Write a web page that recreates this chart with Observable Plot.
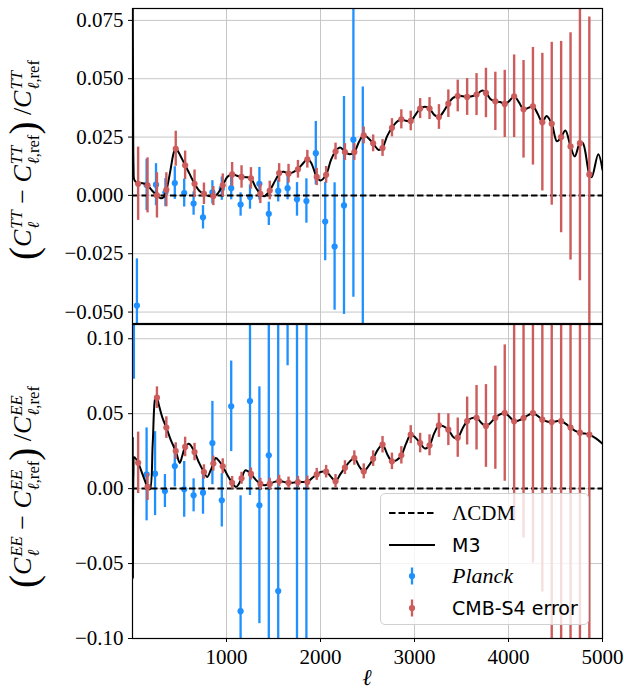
<!DOCTYPE html>
<html><head><meta charset="utf-8">
<script src="https://cdn.jsdelivr.net/npm/d3@7"></script>
<script src="https://cdn.jsdelivr.net/npm/@observablehq/plot@0.6"></script>
<style>
body{margin:0;background:#fff;}
#wrap{position:relative;width:624px;height:690px;overflow:hidden;background:#fff;}
.panel{position:absolute;left:0;}
.ylab{position:absolute;transform:translate(-50%,-50%) rotate(-90deg);white-space:nowrap;font-family:"Liberation Serif",serif;font-size:26px;color:#000;}
.ss{display:inline-flex;flex-direction:column;align-items:flex-start;vertical-align:middle;font-size:0.64em;line-height:1.0;margin-left:1px;}
.ss .u{font-style:italic;}
.bp{font-size:1.5em;vertical-align:middle;line-height:1;position:relative;top:-0.06em;}
#xlab{position:absolute;left:367px;top:678px;transform:translate(-50%,-50%);font-family:"Liberation Serif",serif;font-style:italic;font-size:23px;}
#legend{position:absolute;left:380px;top:493px;width:209px;height:132px;border:1px solid #d0d0d0;border-radius:5px;background:rgba(255,255,255,0.8);box-sizing:border-box;}
.lrow{position:absolute;left:0;height:30px;display:flex;align-items:center;}
.lrow svg{margin-left:7px;}
.lrow span{position:absolute;left:71px;white-space:nowrap;}
.sans{font-family:"DejaVu Sans",sans-serif;font-size:19px;}
.serif{font-family:"Liberation Serif",serif;font-size:21px;}
</style></head>
<body><div id="wrap"></div>
<script>
// ---------- tick values ----------
const xTicks = [1000, 2000, 3000, 4000, 5000];
const yTicksTT = [-0.05, -0.025, 0, 0.025, 0.05, 0.075];
const yTicksEE = [-0.1, -0.05, 0, 0.05, 0.1];
const lcdm = [0];

// ---------- CMB-S4 forecast points (multipoles shared by TT and EE) ----------
const s4_l = [60,160,260,360,460,560,660,760,860,960,1060,1160,1260,1360,1460,1560,1660,1760,1860,1960,
  2060,2160,2260,2360,2460,2560,2660,2760,2860,2960,3060,3160,3260,3360,3460,3560,3660,3760,3860,3960,
  4060,4160,4260,4360,4460,4560,4660,4760,4860];
const s4TT_v = [0.0050,0.0043,0.0000,0.0024,0.0200,0.0129,0.0050,0.0007,-0.0003,0.0043,0.0090,0.0079,0.0073,0.0007,0.0021,0.0096,0.0093,0.0112,0.0155,0.0079,
  0.0088,0.0188,0.0186,0.0186,0.0257,0.0223,0.0203,0.0290,0.0326,0.0319,0.0372,0.0372,0.0336,0.0393,0.0426,0.0422,0.0432,0.0439,0.0403,0.0392,
  0.0425,0.0369,0.0382,0.0314,0.0307,0.0250,0.0210,0.0224,0.0090];
const s4TT_e = [0.0157,0.0118,0.0097,0.0073,0.0075,0.0061,0.0059,0.0046,0.0041,0.0049,0.0051,0.0048,0.0046,0.0042,0.0040,0.0040,0.0040,0.0038,0.0038,0.0037,
  0.0036,0.0036,0.0036,0.0036,0.0036,0.0036,0.0036,0.0039,0.0041,0.0042,0.0043,0.0047,0.0053,0.0059,0.0068,0.0079,0.0090,0.0106,0.0125,0.0144,
  0.0177,0.0209,0.0252,0.0295,0.0349,0.0410,0.0487,0.0590,0.0675];
const s4EE_v = [0.0172,0.0011,0.0607,0.0407,0.0251,0.0278,0.0244,0.0111,0.0167,0.0149,0.0039,0.0069,0.0098,0.0031,0.0031,0.0051,0.0039,0.0044,0.0044,0.0095,
  0.0113,0.0050,0.0140,0.0204,0.0115,0.0200,0.0293,0.0182,0.0222,0.0360,0.0304,0.0289,0.0422,0.0393,0.0340,0.0451,0.0473,0.0418,0.0473,0.0504,
  0.0449,0.0471,0.0504,0.0460,0.0444,0.0451,0.0407,0.0373,0.0360];
const s4EE_e = [0.0205,0.0090,0.0072,0.0072,0.0055,0.0065,0.0058,0.0048,0.0050,0.0050,0.0042,0.0040,0.0040,0.0038,0.0038,0.0038,0.0038,0.0038,0.0040,0.0040,
  0.0042,0.0044,0.0046,0.0048,0.0050,0.0052,0.0055,0.0055,0.0058,0.0060,0.0065,0.0070,0.0080,0.0106,0.0131,0.0160,0.0215,0.0276,0.0344,0.0455,
  0.0667,0.0800,0.1000,0.1150,0.1600,0.1900,0.2200,0.2600,0.3000];

// ---------- Planck points ----------
const plTT_l = [47,150,250,350,450,550,650,750,850,950,1050,1150,1250,1350,1450,1550,1650,1750,1850,1950,2050,2150,2250,2350,2450];
const plTT_v = [-0.0472,0.0045,0.0046,0.0012,0.0053,0.0010,-0.0035,-0.0094,0.0013,0.0029,0.0031,-0.0039,-0.0007,0.0050,-0.0079,0.0019,0.0031,-0.0017,-0.0024,0.0181,-0.0112,-0.0219,-0.0043,0.0239,-0.0600];
const plTT_e = [0.0200,0.0110,0.0090,0.0060,0.0070,0.0060,0.0050,0.0050,0.0050,0.0050,0.0050,0.0050,0.0052,0.0070,0.0050,0.0047,0.0050,0.0072,0.0095,0.0136,0.0168,0.0273,0.0467,0.0675,0.1065];
const plEE_l = [15,150,240,345,450,550,650,750,850,950,1050,1150,1250,1350,1450,1550,1650,1750,1850];
const plEE_v = [0.160,0.0095,0.0100,-0.0016,0.0151,-0.0005,-0.0045,-0.0027,0.0304,-0.0078,0.0549,-0.0818,0.0584,-0.0111,0.0222,-0.0683,0.250,-0.200,0.200];
const plEE_e = [0.087,0.031,0.028,0.011,0.014,0.0186,0.011,0.0144,0.0278,0.0178,0.0302,0.077,0.063,0.079,0.150,0.200,0.168,0.350,0.350];

// ---------- M3 model curves ----------
const m3TT_l = [2,6,11,18,35,60,110,160,210,260,300,330,362,400,440,462,490,560,610,660,710,760,810,860,900,960,1010,1060,1110,1160,1210,1260,1310,1360,1400,1460,
  1520,1570,1610,1660,1710,1760,1820,1860,1900,1960,2000,2060,2110,2160,2210,2260,2310,2360,2410,2460,2510,2560,2620,2660,2710,2760,2810,2860,2910,2960,
  3010,3060,3110,3160,3210,3260,3310,3360,3410,3460,3510,3560,3610,3660,3720,3760,3810,3860,3910,3960,4010,4060,4110,4160,4210,4260,4310,4360,4405,4460,
  4515,4560,4605,4660,4705,4760,4790,4860,4885,4955,5000];
const m3TT_v = [0.095,0.045,0.012,0.0068,0.0058,0.0054,0.0052,0.0043,0.0020,0.0000,-0.0012,-0.0008,0.0024,0.0100,0.0185,0.0202,0.0185,0.0129,0.0090,0.0050,0.0020,0.0006,-0.0003,-0.0004,0.0005,0.0043,0.0080,0.0092,0.0084,0.0079,0.0078,0.0073,0.0035,0.0006,-0.0004,0.0021,
  0.0065,0.0097,0.0101,0.0093,0.0100,0.0113,0.0140,0.0156,0.0140,0.0079,0.0064,0.0090,0.0150,0.0190,0.0205,0.0187,0.0176,0.0186,0.0230,0.0260,0.0245,0.0223,0.0195,0.0205,0.0255,0.0290,0.0315,0.0326,0.0320,0.0319,
  0.0345,0.0372,0.0380,0.0372,0.0345,0.0336,0.0360,0.0393,0.0418,0.0426,0.0425,0.0422,0.0425,0.0432,0.0450,0.0440,0.0412,0.0403,0.0400,0.0392,0.0405,0.0425,0.0400,0.0369,0.0375,0.0382,0.0350,0.0314,0.0340,0.0307,
  0.0232,0.0250,0.0278,0.0210,0.0167,0.0224,0.0225,0.0090,0.0078,0.0176,0.0110];
const m3EE_l = [2,5,10,20,60,110,160,185,215,240,255,280,320,360,410,460,503,530,560,600,660,710,760,795,830,860,885,920,960,1010,1060,1100,1130,1160,1200,1230,1260,1310,1360,1400,
  1460,1510,1560,1610,1660,1710,1760,1810,1860,1910,1960,2010,2060,2110,2160,2210,2260,2310,2360,2410,2460,2510,2560,2610,2660,2710,2760,2810,2860,2910,2960,
  3010,3060,3110,3160,3210,3260,3310,3360,3420,3460,3510,3560,3610,3660,3710,3760,3810,3860,3910,3960,4010,4060,4110,4160,4210,4260,4310,4360,4410,4460,
  4510,4560,4610,4660,4710,4760,4810,4860,4930,5000];
const m3EE_v = [0.034,-0.060,0.010,0.021,0.0172,0.0090,0.0011,-0.0005,0.0300,0.0600,0.0622,0.0560,0.0470,0.0407,0.0320,0.0251,0.0171,0.0220,0.0278,0.0300,0.0244,0.0170,0.0111,0.0078,0.0120,0.0167,0.0204,0.0185,0.0149,0.0090,0.0039,0.0010,0.0030,0.0069,0.0122,0.0115,0.0098,0.0060,0.0031,0.0022,
  0.0031,0.0045,0.0051,0.0045,0.0039,0.0040,0.0044,0.0044,0.0046,0.0070,0.0095,0.0112,0.0113,0.0080,0.0050,0.0095,0.0140,0.0180,0.0204,0.0150,0.0115,0.0150,0.0200,0.0260,0.0293,0.0230,0.0182,0.0190,0.0222,0.0300,0.0360,
  0.0340,0.0304,0.0267,0.0289,0.0370,0.0422,0.0415,0.0393,0.0340,0.0340,0.0400,0.0451,0.0470,0.0473,0.0440,0.0418,0.0440,0.0473,0.0495,0.0504,0.0480,0.0449,0.0455,0.0471,0.0490,0.0504,0.0485,0.0460,0.0448,0.0444,
  0.0450,0.0451,0.0432,0.0407,0.0385,0.0373,0.0368,0.0360,0.0335,0.0300];

// ---------- build tables ----------
const pts = (l, v, e) => l.map((x, i) => ({l: x, v: v[i], e: e[i]}));
const curve = (l, v) => l.map((x, i) => ({l: x, v: v[i]}));
const s4TT = pts(s4_l, s4TT_v, s4TT_e), s4EE = pts(s4_l, s4EE_v, s4EE_e);
const plTT = pts(plTT_l, plTT_v, plTT_e), plEE = pts(plEE_l, plEE_v, plEE_e);
const m3TT = curve(m3TT_l, m3TT_v), m3EE = curve(m3EE_l, m3EE_v);

const BLUE = "#1e90ff", RED = "#cd5c5c", GRID = "#c6c6c6";
const minus = s => s.replace("-", "\u2212");

function marks(pl, s4, m3, yTicks) {
  return [
    Plot.ruleX(xTicks, {stroke: GRID, strokeWidth: 1}),
    Plot.ruleY(yTicks, {stroke: GRID, strokeWidth: 1}),
    Plot.ruleX(pl, {x: "l", y1: d => d.v - d.e, y2: d => d.v + d.e, stroke: BLUE, strokeWidth: 2.3, clip: true}),
    Plot.dot(pl, {x: "l", y: "v", r: 3.1, fill: BLUE, stroke: "none", clip: true}),
    Plot.ruleY(lcdm, {stroke: "black", strokeWidth: 2, strokeDasharray: "6.5,3"}),
    Plot.line(m3, {x: "l", y: "v", curve: "catmull-rom", stroke: "black", strokeWidth: 2, clip: true}),
    Plot.ruleX(s4, {x: "l", y1: d => d.v - d.e, y2: d => d.v + d.e, stroke: RED, strokeWidth: 2.4, clip: true}),
    Plot.dot(s4, {x: "l", y: "v", r: 3.1, fill: RED, stroke: "none", clip: true}),
    Plot.frame({stroke: "black", strokeWidth: 1.2})
  ];
}
const plotStyle = {fontFamily: "Liberation Serif", fontSize: "21px", background: "transparent", color: "black", overflow: "visible"};

const topPlot = Plot.plot({
  width: 624, height: 324, marginLeft: 132, marginRight: 22, marginTop: 8, marginBottom: 1,
  style: plotStyle,
  x: {domain: [0, 5000], axis: null},
  y: {domain: [-0.0549, 0.0801], ticks: yTicksTT, tickFormat: d => minus(d3.format(".3f")(d)), tickSize: 4, tickPadding: 5, label: null},
  marks: marks(plTT, s4TT, m3TT, yTicksTT)
});
const botPlot = Plot.plot({
  width: 624, height: 376, marginLeft: 132, marginRight: 22, marginTop: 10, marginBottom: 52,
  style: plotStyle,
  x: {domain: [0, 5000], ticks: xTicks, tickFormat: d => String(d), tickSize: 4, tickPadding: 7, label: null},
  y: {domain: [-0.1, 0.1095], ticks: yTicksEE, tickFormat: d => minus(d3.format(".2f")(d)), tickSize: 4, tickPadding: 5, label: null},
  marks: marks(plEE, s4EE, m3EE, yTicksEE)
});

// force the serif tick font directly on every text node
for (const svg of [topPlot, botPlot]) {
  svg.querySelectorAll("text").forEach(t => {
    t.style.setProperty("font-family", "'Liberation Serif', 'Times New Roman', serif", "important");
    t.style.setProperty("font-size", "21px", "important");
    t.style.setProperty("font-variant", "normal", "important");
  });
}

const wrap = document.getElementById("wrap");
const d1 = document.createElement("div"); d1.className = "panel"; d1.style.top = "0px"; d1.appendChild(topPlot);
const d2 = document.createElement("div"); d2.className = "panel"; d2.style.top = "314px"; d2.appendChild(botPlot);
wrap.appendChild(d1); wrap.appendChild(d2);

// ---------- axis labels ----------
function ylab(spec, cx, cy) {
  const el = document.createElement("div");
  el.className = "ylab";
  el.style.left = cx + "px"; el.style.top = cy + "px";
  el.innerHTML = `<span class="bp">(</span><i>C</i><span class="ss"><span class="u">${spec}</span><span><i>ℓ</i></span></span>` +
    ` − <i>C</i><span class="ss"><span class="u">${spec}</span><span><i>ℓ</i>,ref</span></span><span class="bp">)</span>` +
    ` /<i>C</i><span class="ss"><span class="u">${spec}</span><span><i>ℓ</i>,ref</span></span>`;
  wrap.appendChild(el);
}
ylab("TT", 25, 160);
ylab("EE", 25, 487);
const xl = document.createElement("div"); xl.id = "xlab"; xl.textContent = "ℓ"; wrap.appendChild(xl);

// ---------- legend ----------
const legendItems = [
  {label: "ΛCDM", cls: "serif", kind: "dash"},
  {label: "M3", cls: "sans", kind: "solid"},
  {label: "Planck", cls: "serif", kind: "err", color: BLUE, italic: true},
  {label: "CMB-S4 error", cls: "sans", kind: "err", color: RED}
];
const lg = document.createElement("div"); lg.id = "legend";
legendItems.forEach((it, i) => {
  const row = document.createElement("div");
  row.className = "lrow"; row.style.top = (4 + i * 31.5) + "px";
  let sw;
  if (it.kind === "dash") sw = `<svg width="48" height="30"><line x1="1" x2="47" y1="15" y2="15" stroke="black" stroke-width="2" stroke-dasharray="6.5,3"/></svg>`;
  else if (it.kind === "solid") sw = `<svg width="48" height="30"><line x1="1" x2="47" y1="15" y2="15" stroke="black" stroke-width="2"/></svg>`;
  else sw = `<svg width="48" height="30"><line x1="24" x2="24" y1="6.5" y2="23.5" stroke="${it.color}" stroke-width="2.3"/><circle cx="24" cy="15" r="3.1" fill="${it.color}"/></svg>`;
  row.innerHTML = sw + `<span class="${it.cls}" style="${it.italic ? "font-style:italic;font-size:22px;" : ""}">${it.label}</span>`;
  lg.appendChild(row);
});
wrap.appendChild(lg);
</script>
</body></html>
